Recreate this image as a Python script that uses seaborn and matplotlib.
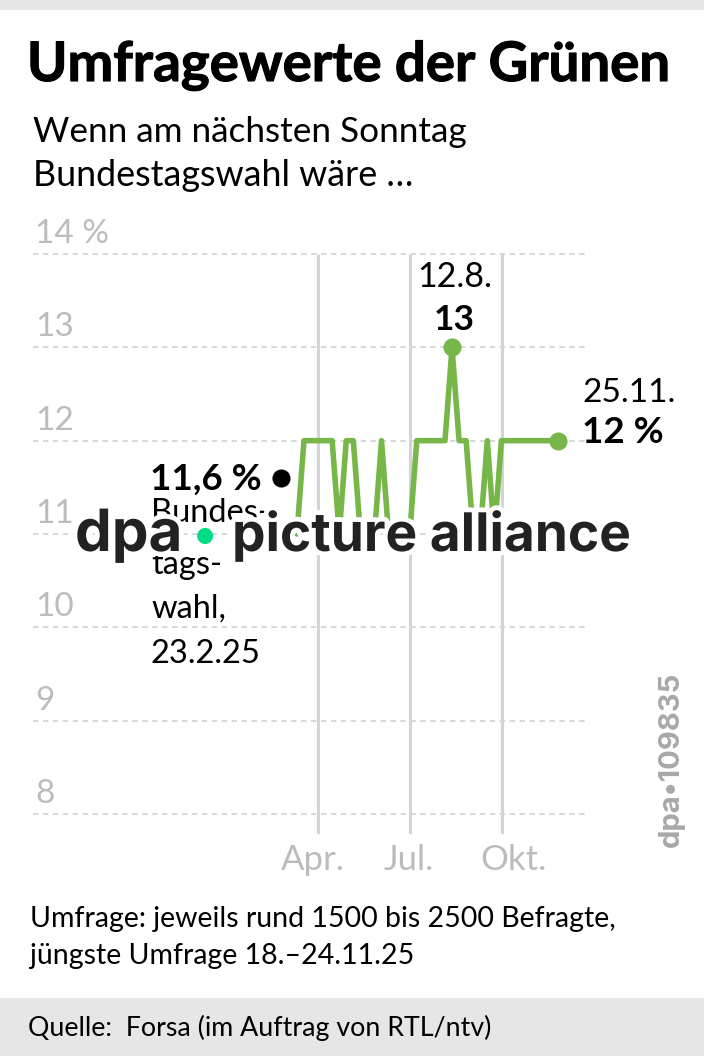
import matplotlib
matplotlib.use("Agg")
import matplotlib.pyplot as plt
import matplotlib.patheffects as pe
from matplotlib.patches import Rectangle
import pandas as pd
import seaborn as sns

poll_dates = ["2025-03-11", "2025-03-18", "2025-03-25", "2025-04-01", "2025-04-08", "2025-04-15",
              "2025-04-22", "2025-04-29", "2025-05-06", "2025-05-13", "2025-05-20", "2025-05-27",
              "2025-06-03", "2025-06-10", "2025-06-17", "2025-06-24", "2025-07-01", "2025-07-08",
              "2025-07-15", "2025-07-22", "2025-07-29", "2025-08-05", "2025-08-12", "2025-08-19",
              "2025-08-26", "2025-09-02", "2025-09-09", "2025-09-16", "2025-09-23", "2025-09-30",
              "2025-10-07", "2025-10-14", "2025-10-21", "2025-10-28", "2025-11-04", "2025-11-11",
              "2025-11-18", "2025-11-25"]
poll_values = [11, 12, 12, 12, 12, 12,
               11, 12, 12, 11, 11, 11,
               12, 11, 11, 11, 11, 12,
               12, 12, 12, 12, 13, 12,
               12, 11, 11, 12, 11, 12,
               12, 12, 12, 12, 12, 12,
               12, 12]
highlight_dates = ["2025-08-12", "2025-11-25"]
highlight_values = [13, 12]
election_date = ["2025-02-23"]
election_value = [11.6]
y_ticks = [14, 13, 12, 11, 10, 9, 8]
y_labels = ["14 %", "13", "12", "11", "10", "9", "8"]
month_ticks = ["2025-04-01", "2025-07-01", "2025-10-01"]
month_labels = ["Apr.", "Jul.", "Okt."]

GREEN = "#77b74a"
GRID = "#d4d4d4"
MUTED = "#bcbcbc"
W, H = 704, 1056

sns.set_theme(style="white")
plt.rcParams["font.family"] = ["Lato", "DejaVu Sans"]

df = pd.DataFrame({"date": pd.to_datetime(poll_dates), "value": poll_values})
top = pd.DataFrame({"date": pd.to_datetime(highlight_dates), "value": highlight_values})
election = pd.DataFrame({"date": pd.to_datetime(election_date), "value": election_value})

fig = plt.figure(figsize=(W / 100, H / 100), dpi=100)


def put(x, y, s, **kw):
    kw.setdefault("color", "black")
    return fig.text(x / W, 1 - y / H, s, **kw)


fig.add_artist(Rectangle((0, 1 - 10 / H), 1, 10 / H, transform=fig.transFigure, color="#e6e6e6", lw=0))
fig.add_artist(Rectangle((0, 0), 1, 58 / H, transform=fig.transFigure, color="#e6e6e6", lw=0))

# axes box in pixels: x 33-586, y 250-834
ax = fig.add_axes([33 / W, 1 - 834 / H, 553 / W, 584 / H])
sns.despine(ax=ax, left=True, bottom=True)
ax.set_xlim(pd.Timestamp("2024-06-22"), pd.Timestamp("2025-12-23"))
ax.set_ylim(8 - 20 / 93.33, 14 + 4 / 93.33)

ax.hlines(y_ticks, *ax.get_xlim(), color=GRID, lw=1.3, linestyles=(0, (3, 2.5)), zorder=1)
ax.vlines(pd.to_datetime(month_ticks), ax.get_ylim()[0], 14, color=GRID, lw=2.2, zorder=1)

sns.lineplot(data=df, x="date", y="value", color=GREEN, lw=4, ax=ax, zorder=3)
sns.scatterplot(data=top, x="date", y="value", color=GREEN, s=170, linewidth=0, ax=ax, zorder=4)
sns.scatterplot(data=election, x="date", y="value", color="black", s=170, linewidth=0, ax=ax, zorder=4)

ax.set_xlabel("")
ax.set_ylabel("")
ax.set_yticks([])
ax.set_xticks(pd.to_datetime(month_ticks))
ax.set_xticklabels([])
ax.tick_params(axis="x", length=0)
for d, lab, dx in zip(pd.to_datetime(month_ticks), month_labels, [-4, -1, 8]):
    ax.annotate(lab, (d, 0), xycoords=("data", "axes fraction"), xytext=(dx, -26),
                textcoords="offset points", fontsize=25, color=MUTED, ha="center", va="baseline")
for v, lab in zip(y_ticks, y_labels):
    ax.annotate(lab, (0, v), xycoords=("axes fraction", "data"), xytext=(1.5, 3.5),
                textcoords="offset points", fontsize=24, color=MUTED, va="bottom")

title_edge = [pe.withStroke(linewidth=0.8, foreground="black")]
put(27, 81, "Umfragewerte der Grünen", fontsize=39.3, fontweight="bold", path_effects=title_edge)
put(33, 142, "Wenn am nächsten Sonntag", fontsize=25.3)
put(33, 186, "Bundestagswahl wäre …", fontsize=25.8)

put(455, 287, "12.8.", fontsize=24.5, ha="center")
put(454, 330, "13", fontsize=25.5, fontweight="bold", ha="center")
put(582, 402, "25.11.", fontsize=24)
put(582, 443, "12 %", fontsize=26.5, fontweight="bold")

put(262, 490, "11,6 %", fontsize=26.5, fontweight="bold", ha="right")
for y, s in zip([522, 574, 618, 663], ["Bundes-", "tags-", "wahl,", "23.2.25"]):
    put(151, y, s, fontsize=23.5)

put(30, 927, "Umfrage: jeweils rund 1500 bis 2500 Befragte,", fontsize=20.5)
put(30, 964, "jüngste Umfrage 18.–24.11.25", fontsize=20.5)
put(28, 1036, "Quelle:  Forsa (im Auftrag von RTL/ntv)", fontsize=19.3)
put(671, 847, "dpa•109835", fontsize=21, fontweight="bold", color="#a8a8a8", rotation=90,
    ha="center", va="bottom", family="Inter")

# agency watermark across the chart
halo = [pe.withStroke(linewidth=7, foreground="white")]
put(75, 551, "dpa", fontsize=42, fontweight="bold", color="#222222", path_effects=halo, zorder=10, family="Inter")
put(232, 551, "picture alliance", fontsize=38.3, fontweight="bold", color="#222222", path_effects=halo,
    zorder=10, family="Inter")
put(205, 535, "●", fontsize=15, color="#00dc82", ha="center", va="center", family="DejaVu Sans", zorder=11)

fig.savefig("out.png", dpi=100)
